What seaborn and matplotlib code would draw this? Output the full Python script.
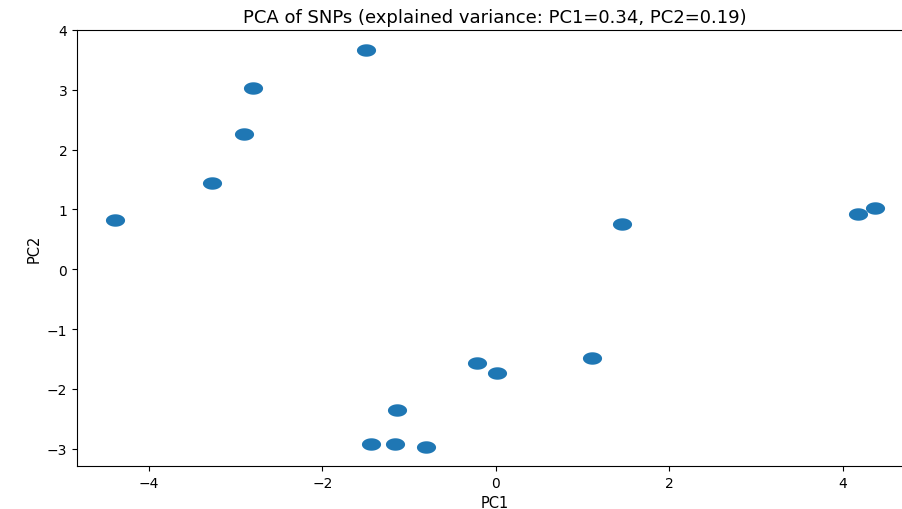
import numpy as np
import pandas as pd
import matplotlib
matplotlib.use("Agg")
import matplotlib.pyplot as plt
from matplotlib.path import Path
import seaborn as sns

# PCA scores
pc1 = [-4.39, -3.27, -2.90, -2.80, -1.50, -0.22, 0.01, -1.14,
       -1.44, -1.16, -0.80, 1.11, 1.45, 4.17, 4.37]
pc2 = [0.82, 1.45, 2.26, 3.03, 3.66, -1.56, -1.74, -2.35,
       -2.93, -2.92, -2.97, -1.48, 0.76, 0.93, 1.02]
var_pc1 = 0.34
var_pc2 = 0.19

df = pd.DataFrame({"PC1": pc1, "PC2": pc2})

# the reference is stretched sideways, so the dots are a bit wide
t = np.linspace(0, 2 * np.pi, 60)
ellipse = Path(np.column_stack([np.cos(t), 0.65 * np.sin(t)]), closed=True)

fig = plt.figure(figsize=(9.03, 5.10), dpi=100)
ax = fig.add_axes([77 / 903, 1 - 467 / 510, (913 - 77) / 903, (467 - 31) / 510])

sns.scatterplot(data=df, x="PC1", y="PC2", ax=ax, marker=ellipse,
                s=190, color="#1f77b4", linewidth=0)

ax.set_ylim(-3.29, 4.0)
ax.set_title(f"PCA of SNPs (explained variance: PC1={var_pc1:.2f}, PC2={var_pc2:.2f})",
             fontsize=13)
ax.set_xlabel("PC1", fontsize=10.5)
ax.set_ylabel("PC2", fontsize=10.5)
ax.tick_params(labelsize=10)

fig.savefig("out.png", dpi=100)
